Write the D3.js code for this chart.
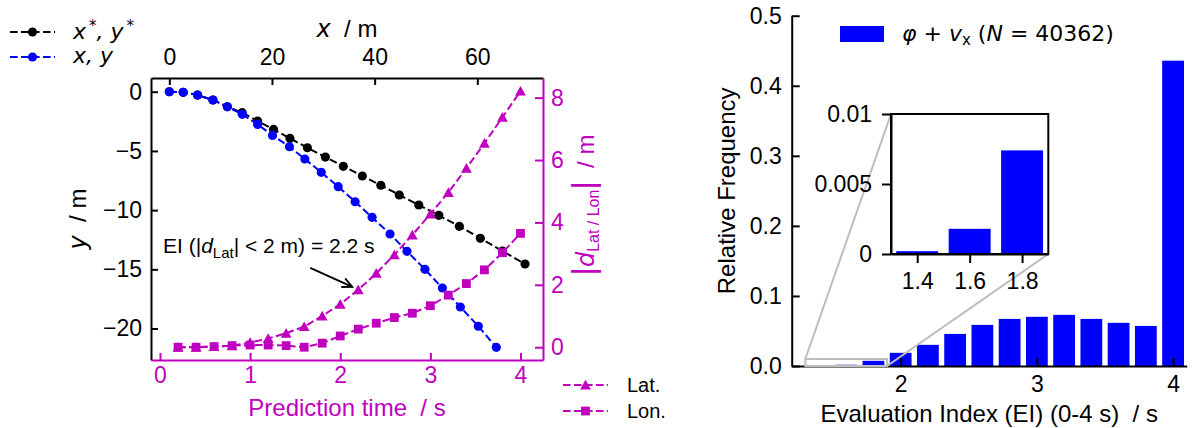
<!DOCTYPE html>
<html>
<head>
<meta charset="utf-8">
<script src="https://cdn.jsdelivr.net/npm/d3@7"></script>
<style>
    body { margin: 0; background: #fff; }
    svg { display: block; font-family: "Liberation Sans", Arial, sans-serif; }
    text { white-space: pre; }
</style>
</head>
<body>
<div id="chart"></div>
<script>
'use strict';

// Reference trajectory x*, y* (m), one point every 0.2 s from 0 to 4 s
const refX = [0, 2.7, 5.5, 8.5, 11.3, 14.2, 17.2, 20.3, 23.5, 26.9, 30.4, 33.9, 37.6, 41.2, 44.8, 48.6, 52.5, 56.5, 60.6, 64.9, 69.3];
const refY = [0, -0.05, -0.28, -0.7, -1.27, -1.77, -2.47, -3.18, -3.94, -4.73, -5.52, -6.3, -7.12, -7.9, -8.72, -9.57, -10.44, -11.37, -12.38, -13.45, -14.55];

// Predicted trajectory x, y (m)
const predX = [0, 2.7, 5.5, 8.5, 11.3, 14.2, 17.2, 20.1, 23.4, 26.4, 29.6, 32.9, 36.2, 39.5, 43.0, 46.3, 49.8, 53.2, 56.7, 60.2, 63.7];
const predY = [0, -0.05, -0.28, -0.7, -1.27, -1.91, -2.76, -3.69, -4.64, -5.68, -6.81, -8.02, -9.29, -10.61, -12.02, -13.48, -15.0, -16.58, -18.18, -19.81, -21.59];

// Prediction time (s) and absolute errors (m)
const errTime = [0.2, 0.4, 0.6, 0.8, 1.0, 1.2, 1.4, 1.6, 1.8, 2.0, 2.2, 2.4, 2.6, 2.8, 3.0, 3.2, 3.4, 3.6, 3.8, 4.0];
const latErr = [0.0, 0.0, 0.02, 0.05, 0.15, 0.28, 0.45, 0.66, 1.0, 1.38, 1.84, 2.37, 2.96, 3.6, 4.27, 4.96, 5.74, 6.54, 7.37, 8.21];
const lonErr = [0.0, 0.0, 0.02, 0.05, 0.07, 0.07, 0.05, 0.0, 0.13, 0.36, 0.58, 0.77, 0.95, 1.09, 1.33, 1.67, 2.04, 2.48, 3.03, 3.65];

// Evaluation index histogram
const eiBins = [1.4, 1.6, 1.8, 2.0, 2.2, 2.4, 2.6, 2.8, 3.0, 3.2, 3.4, 3.6, 3.8, 4.0];
const eiFreq = [0.0002, 0.0018, 0.0074, 0.0188, 0.0302, 0.0458, 0.0587, 0.0672, 0.0702, 0.0730, 0.0672, 0.0616, 0.0572, 0.4358];

// Tick labels
const topTicks = [0, 20, 40, 60];
const leftTicks = [0, -5, -10, -15, -20];
const rightTicks = [0, 2, 4, 6, 8];
const timeTicks = [0, 1, 2, 3, 4];
const freqTicks = [0, 0.1, 0.2, 0.3, 0.4, 0.5];
const eiTicks = [2, 3, 4];
const zoomFreqTicks = [0, 0.005, 0.01];
const zoomEiTicks = [1.4, 1.6, 1.8];

// Colours
const MAGENTA = '#bf00bf';
const BLUE = '#0000ff';
const DASH = '7.6,3.4';

// Markers
const circleMark = d3.symbol(d3.symbolCircle, 66)();
const squareMark = 'M-4.4,-4.4h8.8v8.8h-8.8Z';
const triMark = 'M0,-5.2L5.4,4.5L-5.4,4.5Z';

/*
styleAxis
*/
function styleAxis(g, colour) {
    g.attr('font-size', null).attr('font-family', null);
    g.select('.domain').attr('stroke', colour).attr('stroke-width', 2);
    g.selectAll('.tick line').attr('stroke', colour).attr('stroke-width', 2);
    g.selectAll('.tick text').attr('fill', colour).attr('font-size', 23);
}

/* ------------------------------------------------------------
    Class: TrajectoryChart
------------------------------------------------------------ */
class TrajectoryChart {

    constructor(_svg) {
        this.svg = _svg;
        this.initVis();
    }

    initVis() {
        const vis = this;

        // Plot box
        vis.x0 = 151; vis.x1 = 543; vis.y0 = 78; vis.y1 = 360;

        // Scales
        vis.timeScale = d3.scaleLinear().domain([-0.1, 4.25]).range([vis.x0, vis.x1]);
        vis.xScale = d3.scaleLinear().domain([-3.57, 72.8]).range([vis.x0, vis.x1]);
        vis.yScale = d3.scaleLinear().domain([-22.66, 1.16]).range([vis.y1, vis.y0]);
        vis.errScale = d3.scaleLinear().domain([-0.41, 8.63]).range([vis.y1, vis.y0]);

        vis.g = vis.svg.append('g');

        vis.drawAxes();
        vis.drawSeries(refX, refY, vis.xScale, vis.yScale, '#000', circleMark);
        vis.drawSeries(predX, predY, vis.xScale, vis.yScale, BLUE, circleMark);
        vis.drawSeries(errTime, latErr, vis.timeScale, vis.errScale, MAGENTA, triMark);
        vis.drawSeries(errTime, lonErr, vis.timeScale, vis.errScale, MAGENTA, squareMark);
        vis.drawLegends();
        vis.drawAnnotation();
    }

    drawAxes() {
        const vis = this;

        // Top axis (x / m)
        vis.g.append('g')
            .attr('transform', `translate(0,${vis.y0})`)
            .call(d3.axisTop(vis.xScale).tickValues(topTicks).tickSize(-7).tickSizeOuter(0).tickPadding(13))
            .call(g => styleAxis(g, '#000'));

        // Left axis (y / m)
        vis.g.append('g')
            .attr('transform', `translate(${vis.x0},0)`)
            .call(d3.axisLeft(vis.yScale).tickValues(leftTicks).tickSize(-7).tickSizeOuter(0).tickPadding(9))
            .call(g => styleAxis(g, '#000'));

        // Bottom axis (prediction time)
        vis.g.append('g')
            .attr('transform', `translate(0,${vis.y1})`)
            .call(d3.axisBottom(vis.timeScale).tickValues(timeTicks).tickFormat(d3.format('d'))
                .tickSize(-7).tickSizeOuter(0).tickPadding(7))
            .call(g => styleAxis(g, MAGENTA));

        // Right axis (errors)
        vis.g.append('g')
            .attr('transform', `translate(${vis.x1},0)`)
            .call(d3.axisRight(vis.errScale).tickValues(rightTicks).tickSize(-8).tickSizeOuter(0).tickPadding(8))
            .call(g => styleAxis(g, MAGENTA));

        const cx = (vis.x0 + vis.x1) / 2;

        // Top label
        const topLab = vis.g.append('text')
            .attr('x', cx).attr('y', 37)
            .attr('text-anchor', 'middle').attr('font-size', 24);
        topLab.append('tspan').attr('font-style', 'italic').attr('font-family', 'DejaVu Sans').text('x');
        topLab.append('tspan').text('  / m');

        // Bottom label
        vis.g.append('text')
            .attr('x', cx).attr('y', 416)
            .attr('text-anchor', 'middle').attr('font-size', 24)
            .attr('fill', MAGENTA)
            .text('Prediction time  / s');

        // Left label
        const leftLab = vis.g.append('text')
            .attr('transform', `translate(86,${(vis.y0 + vis.y1) / 2}) rotate(-90)`)
            .attr('text-anchor', 'middle').attr('font-size', 24);
        leftLab.append('tspan').attr('font-style', 'italic').attr('font-family', 'DejaVu Sans').text('y');
        leftLab.append('tspan').text('  / m');

        // Right label
        const rightLab = vis.g.append('text')
            .attr('transform', 'translate(594,205) rotate(-90)')
            .attr('text-anchor', 'middle').attr('font-size', 24)
            .attr('fill', MAGENTA);
        rightLab.append('tspan').attr('font-size', 32).text('|');
        rightLab.append('tspan').attr('font-style', 'italic').attr('font-family', 'DejaVu Sans').text('d');
        rightLab.append('tspan').attr('font-size', 16).attr('dy', 5).text('Lat / Lon');
        rightLab.append('tspan').attr('font-size', 32).attr('dy', -5).text('|');
        rightLab.append('tspan').text('  / m');
    }

    drawSeries(xs, ys, xs_scale, ys_scale, colour, marker) {
        const vis = this;
        const pts = xs.map((x, i) => [xs_scale(x), ys_scale(ys[i])]);

        // Dashed line
        vis.g.append('path')
            .attr('d', d3.line()(pts))
            .attr('fill', 'none')
            .attr('stroke', colour)
            .attr('stroke-width', 2)
            .attr('stroke-dasharray', DASH);

        // Markers
        vis.g.append('g').selectAll('path')
            .data(pts)
            .join('path')
            .attr('transform', d => `translate(${d[0]},${d[1]})`)
            .attr('d', marker)
            .attr('fill', colour);
    }

    drawLegends() {
        const vis = this;

        const item = (x, y, colour, marker) => {
            vis.g.append('line')
                .attr('x1', x).attr('x2', x + 45)
                .attr('y1', y).attr('y2', y)
                .attr('stroke', colour).attr('stroke-width', 2)
                .attr('stroke-dasharray', DASH);
            vis.g.append('path')
                .attr('transform', `translate(${x + 22.5},${y})`)
                .attr('d', marker).attr('fill', colour);
        };

        // Trajectory legend
        item(10, 32, '#000', circleMark);
        item(10, 57, BLUE, circleMark);
        const t1 = vis.g.append('text').attr('x', 73).attr('y', 39)
            .attr('font-size', 22).attr('font-family', 'DejaVu Sans').attr('font-style', 'italic');
        t1.append('tspan').text('x');
        t1.append('tspan').attr('font-size', 15).attr('dy', -8).attr('dx', 3).text('*');
        t1.append('tspan').attr('dy', 8).text(', y');
        t1.append('tspan').attr('font-size', 15).attr('dy', -8).attr('dx', 3).text('*');
        vis.g.append('text').attr('x', 73).attr('y', 63)
            .attr('font-size', 22).attr('font-family', 'DejaVu Sans').attr('font-style', 'italic')
            .text('x, y');

        // Error legend
        item(563, 385, MAGENTA, triMark);
        item(563, 411, MAGENTA, squareMark);
        vis.g.append('text').attr('x', 627).attr('y', 392).attr('font-size', 20).text('Lat.');
        vis.g.append('text').attr('x', 627).attr('y', 418).attr('font-size', 20).text('Lon.');
    }

    drawAnnotation() {
        const vis = this;

        // Text
        const t = vis.g.append('text').attr('x', 163).attr('y', 253).attr('font-size', 21);
        t.append('tspan').text('EI (|');
        t.append('tspan').attr('font-style', 'italic').text('d');
        t.append('tspan').attr('font-size', 15).attr('dy', 5).text('Lat');
        t.append('tspan').attr('dy', -5).text('| < 2 m) = 2.2 s');

        // Arrow pointing at the lateral error at the EI
        const i = errTime.indexOf(2.2);
        const tipX = vis.timeScale(errTime[i]) - 6;
        const tipY = vis.errScale(latErr[i]) - 3;
        const tailX = tipX - 42, tailY = tipY - 19;
        const ang = Math.atan2(tipY - tailY, tipX - tailX);
        vis.g.append('line')
            .attr('x1', tailX).attr('y1', tailY).attr('x2', tipX).attr('y2', tipY)
            .attr('stroke', '#000').attr('stroke-width', 1.8);
        const head = [ang + 2.7, ang - 2.7].map(a => [tipX + 11 * Math.cos(a), tipY + 11 * Math.sin(a)]);
        vis.g.append('path')
            .attr('d', `M${head[0]}L${tipX},${tipY}L${head[1]}`)
            .attr('fill', 'none').attr('stroke', '#000').attr('stroke-width', 1.8);
    }
}

/* ------------------------------------------------------------
    Class: HistogramChart
------------------------------------------------------------ */
class HistogramChart {

    constructor(_svg) {
        this.svg = _svg;
        this.initVis();
    }

    initVis() {
        const vis = this;

        // Main box
        vis.x0 = 791.7; vis.x1 = 1186.7; vis.y0 = 15.7; vis.y1 = 366;
        vis.xScale = d3.scaleLinear().domain([1.2, 4.1]).range([vis.x0, vis.x1]);
        vis.yScale = d3.scaleLinear().domain([0, 0.5]).range([vis.y1, vis.y0]);

        // Inset box
        vis.ix0 = 891; vis.ix1 = 1048.3; vis.iy0 = 114; vis.iy1 = 254;
        vis.zxScale = d3.scaleLinear().domain([1.3, 1.9]).range([vis.ix0, vis.ix1]);
        vis.zyScale = d3.scaleLinear().domain([0, 0.01]).range([vis.iy1, vis.iy0]);

        vis.barHalf = 0.08;
        vis.g = vis.svg.append('g');

        vis.drawMain();
        vis.drawZoomMarks();
        vis.drawInset();
        vis.drawLegend();
    }

    drawMain() {
        const vis = this;

        // Bars
        vis.g.append('g').selectAll('rect')
            .data(eiBins)
            .join('rect')
            .attr('x', d => vis.xScale(d - vis.barHalf))
            .attr('width', d => vis.xScale(d + vis.barHalf) - vis.xScale(d - vis.barHalf))
            .attr('y', (d, i) => vis.yScale(eiFreq[i]))
            .attr('height', (d, i) => vis.y1 - vis.yScale(eiFreq[i]))
            .attr('fill', BLUE);

        // Axes
        vis.g.append('g')
            .attr('transform', `translate(${vis.x0},0)`)
            .call(d3.axisLeft(vis.yScale).tickValues(freqTicks).tickFormat(d3.format('.1f'))
                .tickSize(-8).tickSizeOuter(0).tickPadding(10))
            .call(g => styleAxis(g, '#000'));
        vis.g.append('g')
            .attr('transform', `translate(0,${vis.y1})`)
            .call(d3.axisBottom(vis.xScale).tickValues(eiTicks).tickFormat(d3.format('d'))
                .tickSize(-8).tickSizeOuter(0).tickPadding(10))
            .call(g => styleAxis(g, '#000'));

        // Labels
        vis.g.append('text')
            .attr('x', (vis.x0 + vis.x1) / 2).attr('y', 422)
            .attr('text-anchor', 'middle').attr('font-size', 24)
            .text('Evaluation Index (EI) (0-4 s)  / s');
        vis.g.append('text')
            .attr('transform', `translate(735,${(vis.y0 + vis.y1) / 2}) rotate(-90)`)
            .attr('text-anchor', 'middle').attr('font-size', 24)
            .text('Relative Frequency');
    }

    drawZoomMarks() {
        const vis = this;
        const [zx0, zx1] = vis.zxScale.domain();
        const [zy0, zy1] = vis.zyScale.domain();
        const rx0 = vis.xScale(zx0), rx1 = vis.xScale(zx1);
        const ry0 = vis.yScale(zy1), ry1 = vis.yScale(zy0);

        const gray = vis.g.append('g')
            .attr('stroke', '#bdbdbd').attr('stroke-width', 2).attr('fill', 'none');

        // Zoomed region
        gray.append('rect')
            .attr('x', rx0).attr('y', ry0)
            .attr('width', rx1 - rx0).attr('height', ry1 - ry0);

        // Connectors
        gray.append('line').attr('x1', rx0).attr('y1', ry0).attr('x2', vis.ix0).attr('y2', vis.iy0);
        gray.append('line').attr('x1', rx1).attr('y1', ry1).attr('x2', vis.ix1).attr('y2', vis.iy1);
    }

    drawInset() {
        const vis = this;

        // Background
        vis.g.append('rect')
            .attr('x', vis.ix0).attr('y', vis.iy0)
            .attr('width', vis.ix1 - vis.ix0).attr('height', vis.iy1 - vis.iy0)
            .attr('fill', '#fff');

        // Bars
        vis.g.append('g').selectAll('rect')
            .data(eiBins.filter(d => d < 1.9))
            .join('rect')
            .attr('x', d => vis.zxScale(d - vis.barHalf))
            .attr('width', d => vis.zxScale(d + vis.barHalf) - vis.zxScale(d - vis.barHalf))
            .attr('y', (d, i) => vis.zyScale(eiFreq[i]))
            .attr('height', (d, i) => vis.iy1 - vis.zyScale(eiFreq[i]))
            .attr('fill', BLUE);

        // Axes
        vis.g.append('g')
            .attr('transform', `translate(${vis.ix0},0)`)
            .call(d3.axisLeft(vis.zyScale).tickValues(zoomFreqTicks).tickFormat(d => d === 0 ? '0' : String(d))
                .tickSize(9).tickSizeOuter(0).tickPadding(10))
            .call(g => styleAxis(g, '#000'));
        vis.g.append('g')
            .attr('transform', `translate(0,${vis.iy1})`)
            .call(d3.axisBottom(vis.zxScale).tickValues(zoomEiTicks).tickFormat(d3.format('.1f'))
                .tickSize(9).tickSizeOuter(0).tickPadding(10))
            .call(g => styleAxis(g, '#000'));

        // Box
        vis.g.append('rect')
            .attr('x', vis.ix0).attr('y', vis.iy0)
            .attr('width', vis.ix1 - vis.ix0).attr('height', vis.iy1 - vis.iy0)
            .attr('fill', 'none').attr('stroke', '#000').attr('stroke-width', 2);
    }

    drawLegend() {
        const vis = this;

        vis.g.append('rect')
            .attr('x', 840).attr('y', 26).attr('width', 44).attr('height', 16)
            .attr('fill', BLUE);

        const t = vis.g.append('text')
            .attr('x', 902).attr('y', 41)
            .attr('font-size', 22).attr('font-family', 'DejaVu Sans');
        t.append('tspan').attr('font-style', 'italic').text('φ');
        t.append('tspan').text(' + ');
        t.append('tspan').attr('font-style', 'italic').text('v');
        t.append('tspan').attr('font-size', 15).attr('dy', 4).text('x');
        t.append('tspan').attr('dy', -4).text(' (');
        t.append('tspan').attr('font-style', 'italic').text('N');
        t.append('tspan').text(' = 40362)');
    }
}

// Append svg
const svg = d3.select('#chart')
    .append('svg')
    .attr('width', 1195)
    .attr('height', 428);

new TrajectoryChart(svg);
new HistogramChart(svg);
</script>
</body>
</html>
